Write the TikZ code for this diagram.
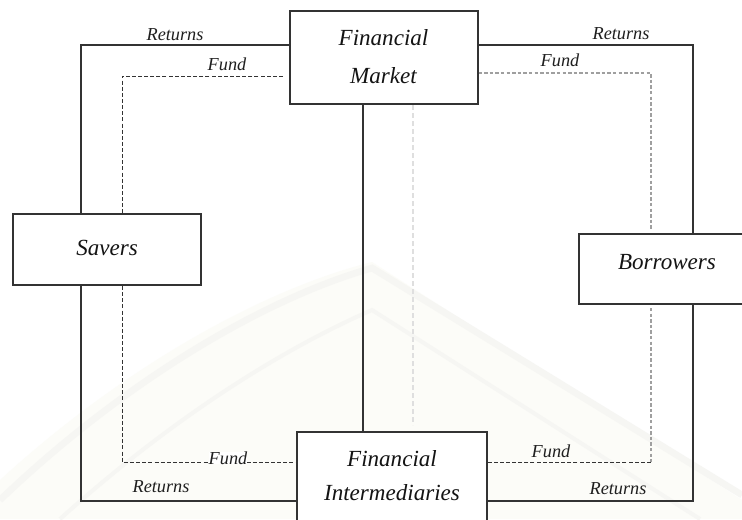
\documentclass[tikz,border=0pt]{standalone}
\usepackage{fontspec}
\setmainfont{Liberation Serif}
\definecolor{ink}{gray}{0.2}
\definecolor{wmark}{HTML}{FCFCF8}
\definecolor{wband}{HTML}{F6F6F3}
\tikzset{
  x=0.75pt,y=-0.75pt,
  box/.style={draw=ink,line width=1.5pt,fill=white,inner sep=0pt,align=center,text=black!92,
    font=\fontsize{17.3}{28.5}\selectfont\itshape},
  solidlink/.style={draw=ink,line width=1.5pt},
  fundlink/.style={draw=ink,line width=0.75pt,dash pattern=on 3pt off 1.6pt},
  paleLink/.style={draw=gray!75,line width=1.5pt,dash pattern=on 2.6pt off 1.6pt},
  faintlink/.style={draw=gray!25,line width=0.8pt,dash pattern=on 4pt off 2pt},
  tag/.style={inner sep=0pt,text=black!88,font=\fontsize{13.7}{16}\selectfont\itshape},
}
\begin{document}
\begin{tikzpicture}
\useasboundingbox (0,0) rectangle (742,519);
\clip (0,0) rectangle (742,519);
\fill[white] (0,0) rectangle (742,519);
% faint watermark
\fill[wmark] (0,519) -- (0,480) .. controls (120,370) and (260,290) .. (372,262)
  -- (742,500) -- (742,519) -- cycle;
\draw[wband,line width=5pt] (0,500) .. controls (120,385) and (260,300) .. (372,268) -- (742,495);
\draw[wband,line width=3pt] (60,519) .. controls (170,420) and (280,350) .. (372,310) -- (700,519);

\coordinate (retL) at (81,45);
\coordinate (retR) at (693,45);
\coordinate (fundL) at (122,76);
\coordinate (fundR) at (651,73);
\coordinate (botRet) at (81,501);
\coordinate (botRetR) at (693,501);
\coordinate (botFund) at (122,462);
\coordinate (botFundR) at (651,462);
\coordinate (mGap) at (283,76);
\coordinate (bTopGap) at (651,230);
\coordinate (bBotGap) at (651,308);
\coordinate (faintTop) at (413,105);
\coordinate (faintBot) at (413,425);

% boxes
\node[box,minimum width=141pt,minimum height=69.75pt] (market) at (383.5,57.5) {\raisebox{1pt}{Financial}\\\raisebox{1pt}{Market}};
\node[box,minimum width=141pt,minimum height=53.25pt] (savers) at (107,249.5) {\raisebox{2pt}{Savers}};
\node[box,minimum width=132pt,minimum height=52.5pt] (borrowers) at (667,269) {\raisebox{11pt}{Borrowers}};
\node[box,minimum width=142.5pt,minimum height=75pt,font=\fontsize{17.3}{25.5}\selectfont\itshape] (inter) at (392,482) {\raisebox{9.5pt}{Financial}\\\raisebox{9.5pt}{Intermediaries}};

% connectors
\draw[solidlink] (market.west |- retL) -- (retL) -- (savers.north -| retL);
\draw[solidlink] (savers.south -| retL) -- (botRet) -- (inter.west |- botRet);
\draw[solidlink] (market.east |- retR) -- (retR) -- (borrowers.north -| retR);
\draw[solidlink] (borrowers.south -| retR) -- (botRetR) -- (inter.east |- botRetR);
\draw[solidlink] (market.south -| 363,0) -- (inter.north -| 363,0);
\draw[fundlink] (mGap) -- (fundL) -- (savers.north -| fundL);
\draw[fundlink] (savers.south -| fundL) -- (botFund) -- (inter.west |- botFund);
\draw[paleLink] (market.east |- fundR) -- (fundR) -- (bTopGap);
\draw[paleLink] (bBotGap) -- (botFundR);
\draw[fundlink] (botFundR) -- (inter.east |- botFundR);
\draw[faintlink] (faintTop) -- (faintBot);

% labels
\node[tag] (l1) at (175,35) {Returns};
\node[tag] (l2) at (227,64) {Fund};
\node[tag] (l3) at (621,34) {Returns};
\node[tag] (l4) at (560,60) {Fund};
\node[tag,fill=white] (l5) at (228,458) {Fund};
\node[tag] (l6) at (161,487) {Returns};
\node[tag] (l7) at (551,451) {Fund};
\node[tag] (l8) at (618,489) {Returns};
\end{tikzpicture}
\end{document}
